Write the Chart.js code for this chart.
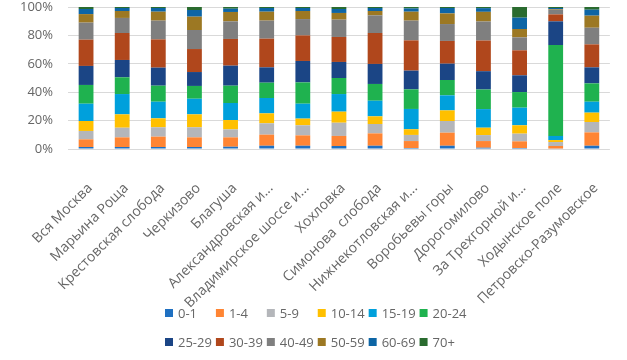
<!DOCTYPE html>
<html>
<head>
<meta charset="utf-8">
<script src="https://cdn.jsdelivr.net/npm/chart.js@4.4.0/dist/chart.umd.min.js"></script>
<style>
  html, body { margin: 0; padding: 0; background: #fff; }
  #wrap { width: 627px; height: 360px; position: relative; }
</style>
</head>
<body>
<div id="wrap"><canvas id="chart"></canvas></div>
<script>
// районы
var districts = ["Вся Москва", "Марьина Роща", "Крестовская слобода", "Черкизово", "Благуша",
    "Александровская и...", "Владимирское шоссе и...", "Хохловка", "Симонова  слобода",
    "Нижнекотловская и...", "Воробьевы горы", "Дорогомилово", "За Трехгорной и...",
    "Ходынское поле", "Петровско-Разумовское"];

// возрастные группы
var ageGroups = ["0-1", "1-4", "5-9", "10-14", "15-19", "20-24", "25-29", "30-39", "40-49", "50-59", "60-69", "70+"];

// доли, % (по районам в том же порядке)
var age0_1   = [1.4, 1.4, 1.4, 1.4, 1.6, 2.3, 2.3, 2.1, 2.3, 0.7, 2.3, 0.9, 0.7, 0.3, 2.3];
var age1_4   = [5.4, 6.8, 7.3, 6.8, 6.6, 7.8, 7.3, 7.1, 8.7, 4.9, 9.2, 4.7, 4.7, 1.8, 9.4];
var age5_9   = [5.9, 6.8, 6.6, 7.1, 5.6, 8.0, 7.1, 9.3, 6.6, 4.3, 8.2, 4.2, 5.4, 2.8, 7.3];
var age10_14 = [7.0, 9.4, 6.3, 9.1, 6.6, 7.0, 4.7, 7.8, 5.4, 4.0, 7.5, 5.2, 5.9, 1.4, 6.6];
var age15_19 = [12.2, 14.3, 11.7, 11.0, 12.0, 10.8, 10.5, 12.4, 11.0, 14.3, 10.6, 13.1, 12.4, 2.9, 7.7];
var age20_24 = [13.2, 11.8, 11.3, 9.0, 12.2, 10.8, 15.0, 11.3, 11.8, 13.8, 10.8, 13.8, 11.0, 64.0, 12.9];
var age25_29 = [13.4, 12.2, 12.7, 9.8, 14.1, 10.8, 15.1, 11.3, 14.1, 13.2, 11.5, 12.9, 11.8, 16.7, 11.3];
var age30_39 = [18.5, 19.0, 19.9, 16.2, 18.8, 20.2, 18.0, 17.6, 21.8, 21.3, 16.0, 21.6, 17.6, 4.9, 16.2];
var age40_49 = [12.0, 10.6, 13.2, 13.4, 12.4, 12.7, 11.5, 12.2, 12.4, 13.9, 11.9, 13.4, 9.1, 3.3, 11.7];
var age50_59 = [6.0, 4.9, 6.3, 9.4, 6.6, 6.3, 5.7, 4.7, 3.1, 6.3, 7.5, 6.8, 5.9, 0.5, 8.5];
var age60_69 = [3.6, 2.1, 2.6, 4.7, 2.3, 2.6, 2.1, 2.8, 2.1, 2.3, 3.8, 2.6, 8.0, 0.7, 4.2];
var age70    = [1.4, 0.7, 0.7, 2.1, 1.2, 0.7, 0.7, 1.4, 0.7, 1.0, 0.7, 0.8, 7.5, 0.7, 1.9];

var yTicks = [0, 10, 20, 30, 40, 50, 60, 70, 80, 90, 100];

var seriesValues = [age0_1, age1_4, age5_9, age10_14, age15_19, age20_24,
    age25_29, age30_39, age40_49, age50_59, age60_69, age70];
var colors = ["#1f70c1", "#ff8533", "#b4b6ba", "#ffc000", "#00a0dc", "#1fb24f",
    "#1b4585", "#b0471c", "#7f7f7f", "#9c7823", "#0d65a5", "#2a6b2f"];

var fontFamily = "'Open Sans', sans-serif";
var textColor = "#666666";

// легенда сеткой 6 x 2, как в Excel
var gridLegend = {
    id: "gridLegend",
    afterDraw: function(chart) {
        var ctx = chart.ctx;
        var perRow = 6;
        var box = 8;
        var gap = 5;
        var colGap = 4;
        ctx.save();
        ctx.font = "13px " + fontFamily;
        ctx.textBaseline = "middle";
        var colW = [];
        for (var c = 0; c < perRow; c++) {
            var w = 0;
            for (var i = c; i < ageGroups.length; i += perRow) {
                w = Math.max(w, ctx.measureText(ageGroups[i]).width);
            }
            colW.push(box + gap + w + colGap);
        }
        var total = colW.reduce(function(a, b) { return a + b; }, 0);
        var startX = Math.round((chart.width - total) / 2) + 4;
        var rowsY = [313, 342];
        for (var i = 0; i < ageGroups.length; i++) {
            var col = i % perRow;
            var row = Math.floor(i / perRow);
            var x = startX;
            for (var k = 0; k < col; k++) x += colW[k];
            var y = rowsY[row];
            ctx.fillStyle = colors[i];
            ctx.fillRect(x, y - box / 2, box, box);
            ctx.fillStyle = textColor;
            ctx.fillText(ageGroups[i], x + box + gap, y + 1);
        }
        ctx.restore();
    }
};

window.onload = function() {
    start();
};

function start() {
    var datasets = [];
    for (var i = 0; i < ageGroups.length; i++) {
        datasets.push({
            label: ageGroups[i],
            data: seriesValues[i],
            backgroundColor: colors[i],
            borderWidth: 0,
            barPercentage: 0.41,
            categoryPercentage: 1.0
        });
    }

    var ctx = document.getElementById("chart").getContext("2d");
    window.ageChart = new Chart(ctx, {
        type: "bar",
        data: { labels: districts, datasets: datasets },
        plugins: [gridLegend],
        options: {
            responsive: true,
            maintainAspectRatio: false,
            animation: false,
            layout: { padding: { top: 0, right: 9, bottom: 0, left: 0 } },
            plugins: {
                legend: { display: false },
                tooltip: { enabled: false }
            },
            scales: {
                x: {
                    stacked: true,
                    grid: { display: false },
                    border: { display: false },
                    ticks: {
                        autoSkip: false,
                        minRotation: 45,
                        maxRotation: 45,
                        padding: 23,
                        labelOffset: 4,
                        color: textColor,
                        font: { family: fontFamily, size: 14 }
                    },
                    // место под подписи и легенду
                    afterFit: function(scale) { scale.height = 211; }
                },
                y: {
                    stacked: true,
                    min: 0,
                    max: 100,
                    afterBuildTicks: function(scale) {
                        scale.ticks = yTicks.map(function(v) { return { value: v }; });
                    },
                    grid: { color: "#d9d9d9", drawTicks: false },
                    border: { display: false },
                    ticks: {
                        padding: 15,
                        color: textColor,
                        font: { family: fontFamily, size: 13 },
                        callback: function(v) { return v + "%"; }
                    },
                    afterFit: function(scale) {
                        scale.width = 68;
                        scale.paddingTop = 7;
                    }
                }
            }
        }
    });
}
</script>
</body>
</html>
